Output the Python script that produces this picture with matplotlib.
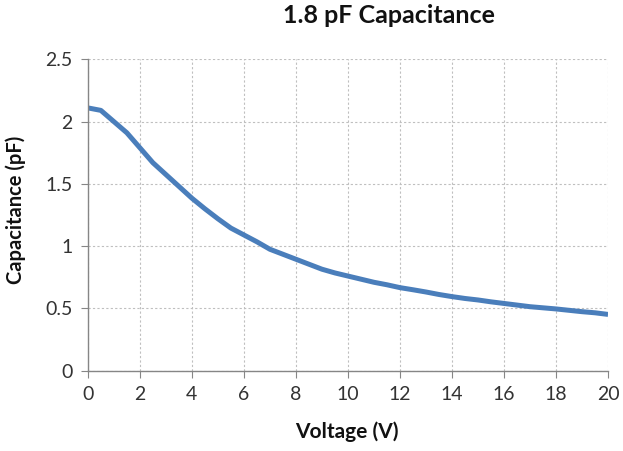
import matplotlib
matplotlib.use("Agg")
import matplotlib.pyplot as plt

voltage = [0, 0.5, 1.0, 1.5, 2.0, 2.5, 3.0, 3.5, 4.0, 4.5, 5.0, 5.5, 6.0, 6.5, 7.0,
           7.5, 8.0, 8.5, 9.0, 9.5, 10.0, 10.5, 11.0, 11.5, 12.0, 12.5, 13.0, 13.5,
           14.0, 14.5, 15.0, 15.5, 16.0, 16.5, 17.0, 17.5, 18.0, 18.5, 19.0, 19.5, 20.0]
capacitance = [2.11, 2.09, 2.00, 1.91, 1.79, 1.67, 1.575, 1.48, 1.385, 1.30, 1.22,
               1.145, 1.09, 1.035, 0.975, 0.935, 0.895, 0.855, 0.815, 0.785, 0.76,
               0.735, 0.71, 0.69, 0.667, 0.65, 0.632, 0.612, 0.595, 0.58, 0.568,
               0.553, 0.54, 0.527, 0.514, 0.505, 0.496, 0.485, 0.474, 0.465, 0.452]
x_ticks = [0, 2, 4, 6, 8, 10, 12, 14, 16, 18, 20]
y_ticks = [0, 0.5, 1, 1.5, 2, 2.5]
y_tick_labels = ["0", "0.5", "1", "1.5", "2", "2.5"]

plt.rcParams['font.family'] = ['Lato', 'DejaVu Sans']

fig = plt.figure(figsize=(6.23, 4.51), dpi=100)
ax = fig.add_axes([0.141, 0.178, 0.835, 0.6905])

ax.plot(voltage, capacitance, color='#4A7EBB', linewidth=3.6, solid_capstyle='butt')

ax.set_xlim(0, 20)
ax.set_ylim(0, 2.5)
ax.set_xticks(x_ticks)
ax.set_xticklabels([str(t) for t in x_ticks])
ax.set_yticks(y_ticks)
ax.set_yticklabels(y_tick_labels)

ax.grid(True, color='#BFBFBF', linestyle=(0, (2, 2)), linewidth=0.8)
ax.set_axisbelow(True)
for s in ['top', 'right']:
    ax.spines[s].set_visible(False)
for s in ['left', 'bottom']:
    ax.spines[s].set_color('#868686')
    ax.spines[s].set_linewidth(1.0)
ax.tick_params(axis='both', direction='out', length=5, color='#868686',
               labelsize=14, labelcolor='#333333', pad=6)

fig.text(0.624, 0.966, "1.8 pF Capacitance", ha='center', va='center',
         fontsize=18, fontweight='bold', color='#111111')
fig.text(0.556, 0.042, "Voltage (V)", ha='center', va='center',
         fontsize=15, fontweight='bold', color='#111111')
fig.text(0.025, 0.534, "Capacitance (pF)", ha='center', va='center', rotation=90,
         fontsize=14.5, fontweight='bold', color='#111111')

fig.savefig("out.png", dpi=100)
